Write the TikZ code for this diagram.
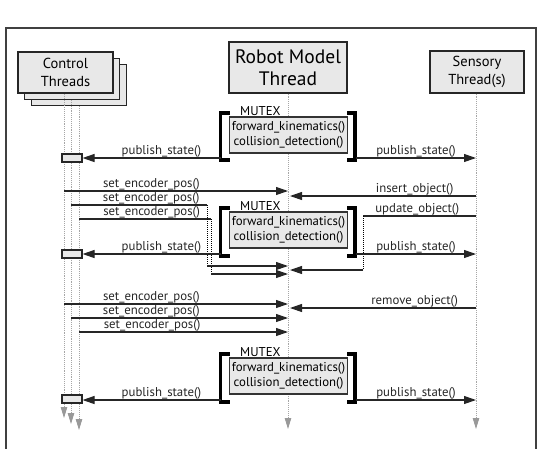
\documentclass[tikz,border=0pt]{standalone}
\usepackage{fontspec}
\setmainfont{PT Sans}
\usetikzlibrary{arrows.meta}

\tikzset{
  thread/.style={draw=black!85, line width=1.3pt, fill=black!9, align=center, inner sep=0pt},
  mutexbox/.style={draw=black!80, line width=1.2pt, fill=black!9, align=center, inner sep=0pt,
    minimum width=118, minimum height=36, font=\fontsize{12.8}{14.5}\selectfont},
  actbox/.style={draw=black!85, line width=1.1pt, fill=black!9, minimum width=20, minimum height=8, inner sep=0pt},
  msg/.style={-{Triangle[length=12pt,width=8pt]}, line width=1.1pt, black!85},
  plain/.style={line width=1.1pt, black!85},
  wait/.style={densely dotted, line width=1pt, black},
  lifeline/.style={densely dotted, line width=0.9pt, black!35, -{Triangle[length=11pt,width=6.5pt,color=black!40,fill=black!40]}},
  brk/.style={line width=3.4pt, black},
  lbl/.style={above=-1pt, font=\fontsize{12.8}{14}\selectfont, inner sep=1pt},
}

\begin{document}
\begin{tikzpicture}[x=1pt, y=-1pt]
  \useasboundingbox (0,0) rectangle (549,448);
  % frame
  \draw[black!75, line width=1.4pt] (6,460) -- (6,28) -- (536,28) -- (536,460);

  % threads
  \node[thread, minimum width=95, minimum height=41] (ct3) at (79,85) {};
  \node[thread, minimum width=95, minimum height=41] (ct2) at (72,79) {};
  \node[thread, minimum width=95, minimum height=41, font=\fontsize{14.5}{17.5}\selectfont] (ct1) at (65.5,72.5) {Control\\Threads};
  \node[thread, minimum width=118, minimum height=51, font=\fontsize{19.5}{22.5}\selectfont] (rm) at (288,67.5) {Robot Model\\Thread};
  \node[thread, minimum width=94, minimum height=42, font=\fontsize{14.5}{17.5}\selectfont] (st) at (477,72) {Sensory\\Thread(s)};

  % lifelines
  \coordinate (c1end) at (64,418);
  \coordinate (c2end) at (71,424);
  \coordinate (c3end) at (79,430);
  \coordinate (rmend) at (288,429);
  \coordinate (stend) at (476,429);
  \draw[lifeline] (64,94) -- (c1end);
  \draw[lifeline] (71,100) -- (c2end);
  \draw[lifeline] (79,106) -- (c3end);
  \draw[lifeline] (rm.south) -- (rmend);
  \draw[lifeline] (st.south -| stend) -- (stend);

  % mutex block 1
  \node[mutexbox] (mx1) at (288.5,135) {forward\_kinematics()\\collision\_detection()};
  \node[anchor=west, font=\fontsize{12.8}{14}\selectfont, inner sep=0pt] (mt1) at (240,111) {MUTEX};
  \draw[brk] (230,113) -- (220.5,113) -- (220.5,160) -- (230,160);
  \draw[brk] (347,113) -- (355,113) -- (355,160) -- (347,160);
  \node[actbox] (a1) at (72,158) {};
  \coordinate (l1) at (221,158);
  \coordinate (r1) at (356,158);
  \coordinate (s1) at (476,158);
  \draw[msg] (l1) -- node[lbl, pos=0.43] {publish\_state()} (a1.east);
  \draw[msg] (r1) -- node[lbl, pos=0.5] {publish\_state()} (s1);

  % set_encoder_pos / sensor updates
  \coordinate (e1) at (64,191);
  \coordinate (e2) at (71,205);
  \coordinate (e3) at (79,219);
  \coordinate (d2) at (207,205);
  \coordinate (d3) at (211,219);
  \coordinate (d2b) at (207,266);
  \coordinate (d3b) at (211,274);
  \coordinate (rm1) at (288,191);
  \coordinate (rm2) at (288,266);
  \coordinate (rm3) at (288,274);
  \draw[msg] (e1) -- node[lbl, pos=0.39] {set\_encoder\_pos()} (rm1);
  \draw[plain] (e2) -- node[lbl, pos=0.59] {set\_encoder\_pos()} (d2);
  \draw[plain] (e3) -- node[lbl, pos=0.55] {set\_encoder\_pos()} (d3);
  \draw[wait] (d2) -- (d2b);
  \draw[wait] (d3) -- (d3b);
  \draw[msg] (d2b) -- (rm2);
  \draw[msg] (d3b) -- (rm3);

  \coordinate (i1) at (476,196);
  \coordinate (rmi) at (290,196);
  \coordinate (u1) at (476,216);
  \coordinate (u2) at (363,216);
  \coordinate (u3) at (363,270);
  \coordinate (rmu) at (290,270);
  \draw[msg] (i1) -- node[lbl, pos=0.33] {insert\_object()} (rmi);
  \draw[plain] (u1) -- node[lbl, pos=0.52] {update\_object()} (u2);
  \draw[wait] (u2) -- (u3);
  \draw[msg] (u3) -- (rmu);

  % mutex block 2
  \node[mutexbox] (mx2) at (288.5,230) {forward\_kinematics()\\collision\_detection()};
  \node[anchor=west, font=\fontsize{12.8}{14}\selectfont, inner sep=0pt] (mt2) at (240,206) {MUTEX};
  \draw[brk] (230,208) -- (220.5,208) -- (220.5,256) -- (230,256);
  \draw[brk] (347,208) -- (355,208) -- (355,256) -- (347,256);
  \node[actbox] (a2) at (72,254) {};
  \coordinate (l2) at (221,254);
  \coordinate (r2) at (356,254);
  \coordinate (s2) at (476,254);
  \draw[msg] (l2) -- node[lbl, pos=0.43] {publish\_state()} (a2.east);
  \draw[msg] (r2) -- node[lbl, pos=0.5] {publish\_state()} (s2);

  % second round of messages
  \coordinate (f1) at (64,304);
  \coordinate (f2) at (71,318);
  \coordinate (f3) at (79,332);
  \coordinate (rf1) at (288,304);
  \coordinate (rf2) at (288,318);
  \coordinate (rf3) at (288,332);
  \draw[msg] (f1) -- node[lbl, pos=0.39] {set\_encoder\_pos()} (rf1);
  \draw[msg] (f2) -- node[lbl, pos=0.37] {set\_encoder\_pos()} (rf2);
  \draw[msg] (f3) -- node[lbl, pos=0.35] {set\_encoder\_pos()} (rf3);
  \coordinate (o1) at (476,308);
  \coordinate (ro1) at (290,308);
  \draw[msg] (o1) -- node[lbl, pos=0.33] {remove\_object()} (ro1);

  % mutex block 3
  \node[mutexbox] (mx3) at (288.5,376) {forward\_kinematics()\\collision\_detection()};
  \node[anchor=west, font=\fontsize{12.8}{14}\selectfont, inner sep=0pt] (mt3) at (240,352) {MUTEX};
  \draw[brk] (230,354) -- (220.5,354) -- (220.5,402) -- (230,402);
  \draw[brk] (347,354) -- (355,354) -- (355,402) -- (347,402);
  \node[actbox] (a3) at (72,399) {};
  \coordinate (l3) at (221,400);
  \coordinate (r3) at (356,400);
  \coordinate (s3) at (476,400);
  \draw[msg] (l3) -- node[lbl, pos=0.43] {publish\_state()} (a3.east |- l3);
  \draw[msg] (r3) -- node[lbl, pos=0.5] {publish\_state()} (s3);
\end{tikzpicture}
\end{document}
